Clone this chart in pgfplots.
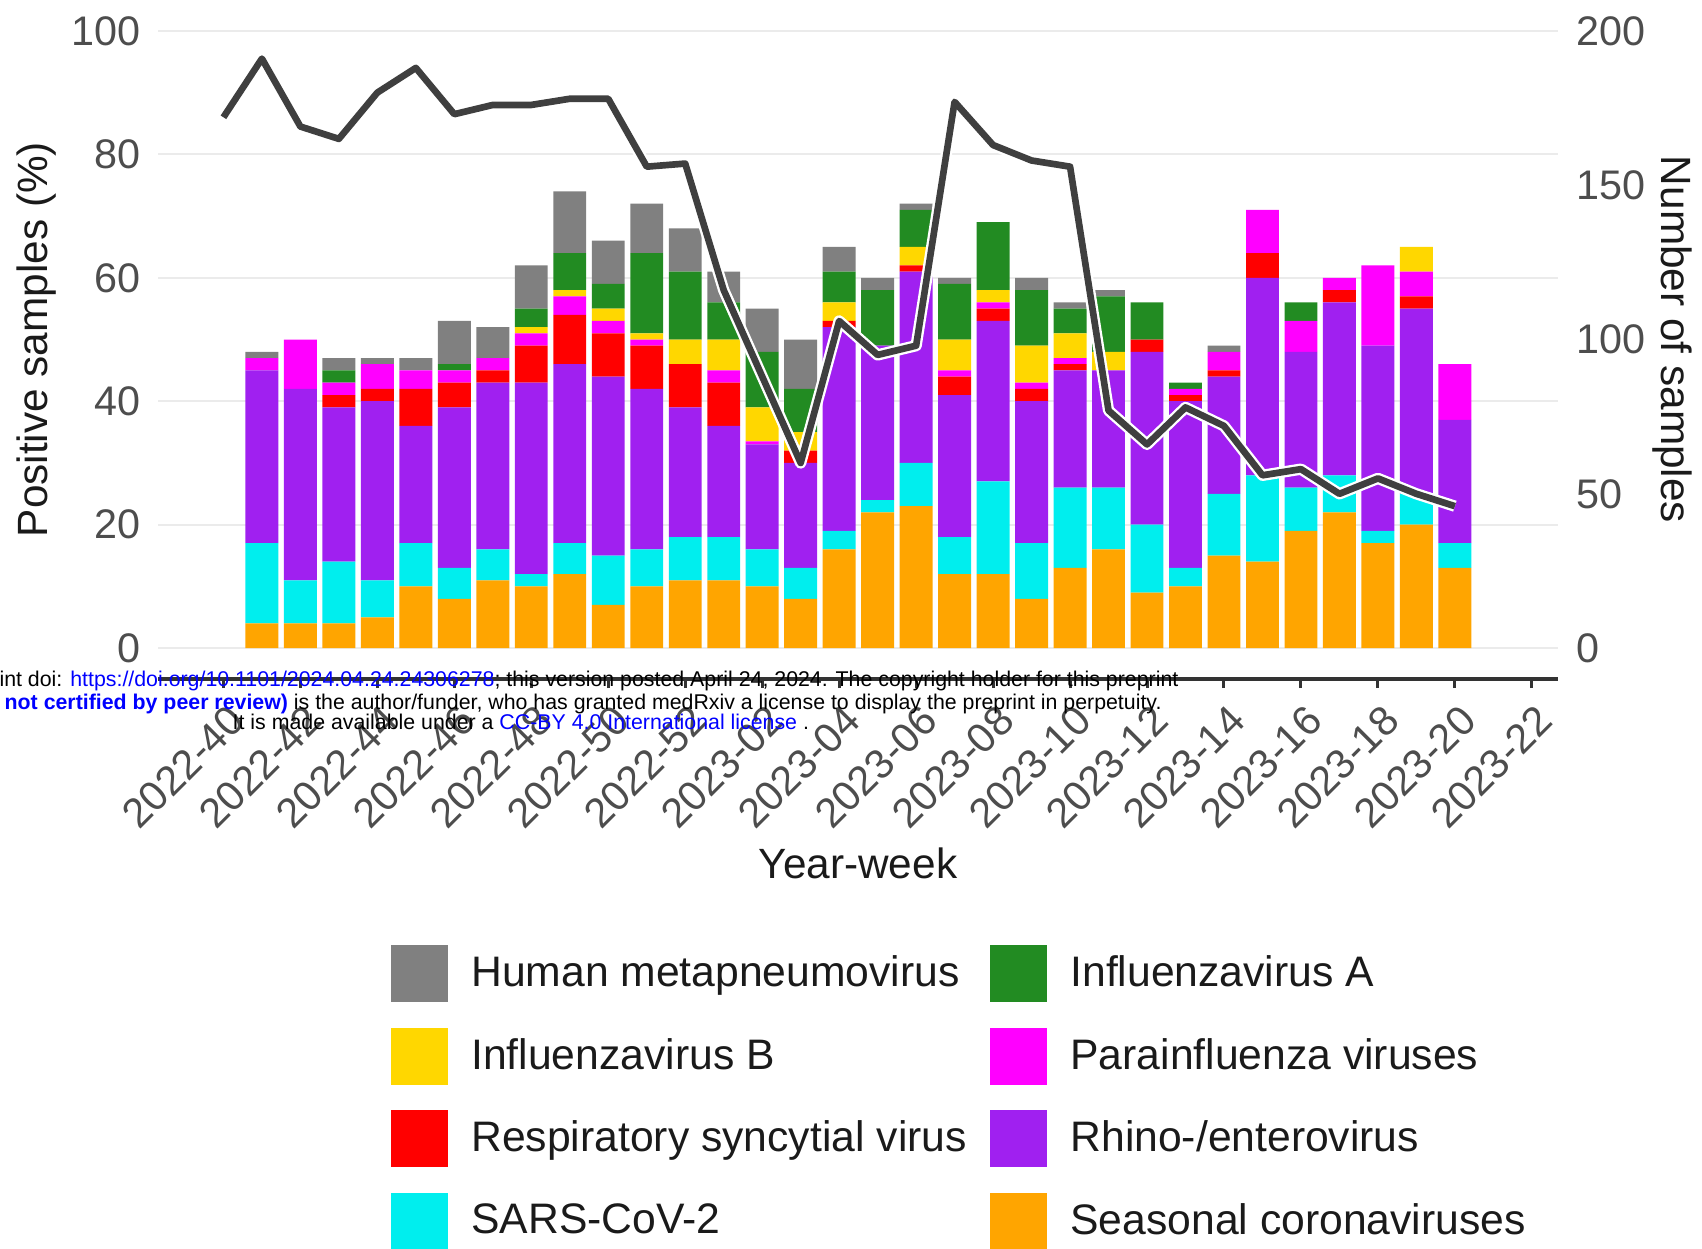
\documentclass[border=0pt]{standalone}
\usepackage{pgfplots}
\pgfplotsset{compat=1.18}
\usepackage{pgfplotstable}
\usepackage{fontspec}
\setmainfont{Liberation Sans}
\definecolor{cHMPV}{HTML}{808080}
\definecolor{cIAV}{HTML}{228B22}
\definecolor{cIBV}{HTML}{FFD700}
\definecolor{cPIV}{HTML}{FF00FF}
\definecolor{cRSV}{HTML}{FF0000}
\definecolor{cRE}{HTML}{A020F0}
\definecolor{cSARS}{HTML}{00EEEE}
\definecolor{cSC}{HTML}{FFA500}
\definecolor{cLine}{HTML}{3F3F3F}
\definecolor{cTick}{HTML}{4D4D4D}
\definecolor{cTitle}{HTML}{1A1A1A}
\definecolor{cGrid}{HTML}{EBEBEB}
\definecolor{cLink}{HTML}{0000FF}

% week index: 0 = 2022-40, 12 = 2022-52, 13 = 2023-01, 32 = 2023-20
\pgfplotstableread{
x  SC SARS RE  RSV PIV IBV IAV HMPV
1  4  13   28  0   2   0   0   1
2  4  7    31  0   8   0   0   0
3  4  10   25  2   2   0   2   2
4  5  6    29  2   4   0   0   1
5  10 7    19  6   3   0   0   2
6  8  5    26  4   2   0   1   7
7  11 5    27  2   2   0   0   5
8  10 2    31  6   2   1   3   7
9  12 5    29  8   3   1   6   10
10 7  8    29  7   2   2   4   7
11 10 6    26  7   1   1   13  8
12 11 7    21  7   0   4   11  7
13 11 7    18  7   2   5   6   5
14 10 6    17  0   0.5 5.5 9   7
15 8  5    17  2   0   3   7   8
16 16 3    33  1   0   3   5   4
17 22 2    25  0   0   0   9   2
18 23 7    31  1   0   3   6   1
19 12 6    23  3   1   5   9   1
20 12 15   26  2   1   2   11  0
21 8  9    23  2   1   6   9   2
22 13 13   19  1   1   4   4   1
23 16 10   19  0   0   3   9   1
24 9  11   28  2   0   0   6   0
25 10 3    27  1   1   0   1   0
26 15 10   19  1   3   0   0   1
27 14 14   32  4   7   0   0   0
28 19 7    22  0   5   0   3   0
29 22 6    28  2   2   0   0   0
30 17 2    30  0   13  0   0   0
31 20 5    30  2   4   4   0   0
32 13 4    20  0   9   0   0   0
}\bars

\pgfplotstableread{
x  n
0  172
1  191
2  169
3  165
4  180
5  188
6  173
7  176
8  176
9  178
10 178
11 156
12 157
13 116
14 88
15 60
16 106
17 95
18 98
19 177
20 163
21 158
22 156
23 77
24 66
25 78
26 72
27 56
28 58
29 50
30 55
31 50
32 46
}\samples

\pgfplotsset{legsq/.style={draw=none, fill=#1,
  legend image code/.code={\fill[#1] (0pt,-8.55pt) rectangle (17.1pt,8.55pt);}}}

\newcommand\tickfont{\fontsize{12.4}{14}\selectfont}
\newcommand\titlefont{\fontsize{12.7}{15}\selectfont}

\begin{document}
\begin{tikzpicture}
\useasboundingbox (0,0) rectangle (510.6pt,-374.4pt);
\begin{axis}[
  at={(47.4pt,-203.7pt)}, anchor=south west,
  scale only axis, width=420pt, height=203.7pt,
  xmin=-1.70, xmax=34.68, ymin=-5, ymax=105,
  ybar stacked, bar width=0.855,
  axis x line*=bottom, axis y line*=left,
  x axis line style={line width=1.2pt, color=black!80, -},
  y axis line style={draw=none},
  tick align=outside, major tick length=2.7pt,
  xtick style={line width=0.9pt, color=black!80},
  ytick style={draw=none},
  ymajorgrids, major grid style={color=cGrid, line width=0.6pt},
  /pgf/number format/assume math mode=true,
  ytick={0,20,...,100},
  yticklabel style={font=\tickfont, color=cTick, anchor=east, inner sep=0pt, xshift=-2.4pt},
  xtick={0,2,...,34},
  xticklabels={2022-40,2022-42,2022-44,2022-46,2022-48,2022-50,2022-52,2023-02,2023-04,2023-06,2023-08,2023-10,2023-12,2023-14,2023-16,2023-18,2023-20,2023-22},
  xticklabel style={font=\tickfont, color=cTick, inner sep=0pt, yshift=-4.3pt, xshift=0.9pt, rotate=45, anchor=north east},
  xlabel={Year-week},
  xlabel style={at={(axis description cs:0.5,-0.271)}, anchor=center, font=\titlefont, color=cTitle, inner sep=0pt},
  ylabel={Positive samples (\%)},
  ylabel style={at={(axis description cs:-0.0871,0.5)}, anchor=center, font=\titlefont, color=cTitle, inner sep=0pt},
  legend columns=2, reverse legend,
  legend style={at={(axis description cs:0.1664,-0.3918)}, anchor=north west,
    draw=none, fill=none, inner sep=0pt, outer sep=0pt,
    font=\fontsize{12.8}{15}\selectfont, text=cTitle,
    nodes={inner sep=0pt}, cells={anchor=west},
    /tikz/column sep=7.0pt, /tikz/row sep=7.7pt},
]
\addplot[legsq=cSC]   table[x=x,y=SC]{\bars};
\addlegendentry{Seasonal coronaviruses}
\addplot[legsq=cSARS] table[x=x,y=SARS]{\bars};
\addlegendentry{SARS-CoV-2}
\addplot[legsq=cRE]   table[x=x,y=RE]{\bars};
\addlegendentry{Rhino-/enterovirus}
\addplot[legsq=cRSV]  table[x=x,y=RSV]{\bars};
\addlegendentry{Respiratory syncytial virus}
\addplot[legsq=cPIV]  table[x=x,y=PIV]{\bars};
\addlegendentry{Parainfluenza viruses}
\addplot[legsq=cIBV]  table[x=x,y=IBV]{\bars};
\addlegendentry{Influenzavirus B}
\addplot[legsq=cIAV]  table[x=x,y=IAV]{\bars};
\addlegendentry{Influenzavirus A}
\addplot[legsq=cHMPV] table[x=x,y=HMPV]{\bars};
\addlegendentry{Human metapneumovirus}
\node[anchor=west, font=\titlefont, text=cTitle, inner sep=0pt] at (axis description cs:0.02,-0.62) {Pathogen};
\end{axis}
\begin{axis}[
  at={(47.4pt,-203.7pt)}, anchor=south west,
  scale only axis, width=420pt, height=203.7pt,
  xmin=-1.70, xmax=34.68, ymin=-10, ymax=210,
  axis x line=none, axis y line*=right,
  y axis line style={draw=none}, ytick style={draw=none},
  /pgf/number format/assume math mode=true,
  ytick={0,50,...,200},
  yticklabel style={font=\tickfont, color=cTick, anchor=west, inner sep=0pt, xshift=5.4pt},
  ylabel={Number of samples},
  ylabel style={at={(axis description cs:1.0814,0.5)}, anchor=center, rotate=180, font=\titlefont, color=cTitle, inner sep=0pt},
]
\addplot[white, line width=3.4pt, line join=round] table[x=x,y=n]{\samples};
\addplot[cLine, line width=2pt, line join=round] table[x=x,y=n]{\samples};
\end{axis}
\begin{scope}[font=\fontsize{6.4}{7.6}\selectfont, every node/.style={inner sep=0pt, anchor=base west}]
\node at (20.9pt,-205.8pt) {\llap{medRxiv preprint doi: }\textcolor{cLink}{https://doi.org/10.1101/2024.04.24.24306278}; this version posted April 24, 2024. The copyright holder for this preprint};
\node at (1.2pt,-212.9pt) {\llap{\textcolor{cLink}{\bfseries (which was }}\textcolor{cLink}{\bfseries not certified by peer review)} is the author/funder, who has granted medRxiv a license to display the preprint in perpetuity.};
\node at (69.6pt,-218.8pt) {It is made available under a \textcolor{cLink}{CC-BY 4.0 International license} .};
\end{scope}
\end{tikzpicture}
\end{document}
